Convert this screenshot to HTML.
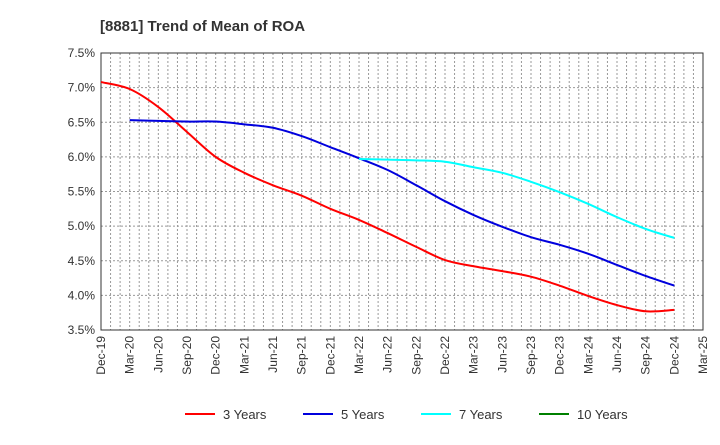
<!DOCTYPE html>
<html><head><meta charset="utf-8"><style>
body{margin:0;background:#fff;font-family:"Liberation Sans",Arial,sans-serif}
svg text{font-family:"Liberation Sans",Arial,sans-serif}
</style></head><body>
<svg id="c" width="720" height="440">
<text x="100" y="31" font-size="15" font-weight="bold" fill="#333">[8881]  Trend of Mean of ROA</text>
</svg>
<script>
const xLabels=["Dec-19","Mar-20","Jun-20","Sep-20","Dec-20","Mar-21","Jun-21","Sep-21","Dec-21","Mar-22","Jun-22","Sep-22","Dec-22","Mar-23","Jun-23","Sep-23","Dec-23","Mar-24","Jun-24","Sep-24","Dec-24","Mar-25"];
const yTicks=[3.5,4.0,4.5,5.0,5.5,6.0,6.5,7.0,7.5];
const s3=[7.08,6.98,6.72,6.36,6.0,5.77,5.59,5.44,5.25,5.09,4.9,4.7,4.51,4.42,4.35,4.27,4.14,3.99,3.86,3.77,3.79];
const s5=[null,6.53,6.52,6.51,6.51,6.47,6.42,6.3,6.14,5.98,5.81,5.59,5.36,5.16,4.99,4.84,4.73,4.6,4.44,4.28,4.14];
const s7=[null,null,null,null,null,null,null,null,null,5.97,5.96,5.95,5.93,5.85,5.77,5.64,5.49,5.32,5.13,4.96,4.83];
const s10=[];
const svg=document.getElementById('c'),NS='http://www.w3.org/2000/svg';
const L=101,R=703,T=53,B=330;
const X=i=>L+(R-L)*i/(xLabels.length-1);
const Y=v=>B-(v-3.5)/(7.5-3.5)*(B-T);
function mk(t,a,p){const e=document.createElementNS(NS,t);for(const k in a)e.setAttribute(k,a[k]);(p||svg).appendChild(e);return e;}
const g=mk('g',{});


for(let m=1;m<(xLabels.length-1)*3;m++){const x=L+(R-L)*m/((xLabels.length-1)*3);mk('line',{x1:x,x2:x,y1:T,y2:B,stroke:'#999','stroke-dasharray':'2,2','stroke-width':1},g);}
yTicks.forEach(v=>{const y=Y(v);mk('line',{x1:L,x2:R,y1:y,y2:y,stroke:'#999','stroke-dasharray':'2,2','stroke-width':1},g);
const t=mk('text',{x:L-6,y:y+4,'text-anchor':'end','font-size':12,fill:'#333'});t.textContent=v.toFixed(1)+'%';

});
const fr=mk('rect',{x:L,y:T,width:R-L,height:B-T,fill:'none',stroke:'#333','stroke-width':1});


xLabels.forEach((l,i)=>{const x=X(i);const t=mk('text',{transform:`translate(${x+4},${B+6}) rotate(-90)`,'text-anchor':'end','font-size':12,fill:'#333'});t.textContent=l;

});
function line(data,color,name){const p=[];data.forEach((v,i)=>{if(v!=null)p.push([X(i),Y(v)]);});if(p.length<2)return;
let d=`M${p[0][0]},${p[0][1]}`;for(let i=0;i<p.length-1;i++){const p0=p[i-1]||p[i],p1=p[i],p2=p[i+1],p3=p[i+2]||p2;
d+=`C${p1[0]+(p2[0]-p0[0])/6},${p1[1]+(p2[1]-p0[1])/6} ${p2[0]-(p3[0]-p1[0])/6},${p2[1]-(p3[1]-p1[1])/6} ${p2[0]},${p2[1]}`;}
const e=mk('path',{d,fill:'none',stroke:color,'stroke-width':2});

}
line(s3,'#ff0000','line-3-years');line(s5,'#0000dd','line-5-years');line(s7,'#00ffff','line-7-years');line(s10,'#008000','line-10-years');
[['3 Years','#ff0000',185],['5 Years','#0000dd',303],['7 Years','#00ffff',421],['10 Years','#008000',539]].forEach(([n,c,x])=>{
const lg=mk('g',{});


mk('line',{x1:x,x2:x+30,y1:414,y2:414,stroke:c,'stroke-width':2},lg);
const t=mk('text',{x:x+38,y:419,'font-size':13,fill:'#333'},lg);t.textContent=n;});
</script>
</body></html>
